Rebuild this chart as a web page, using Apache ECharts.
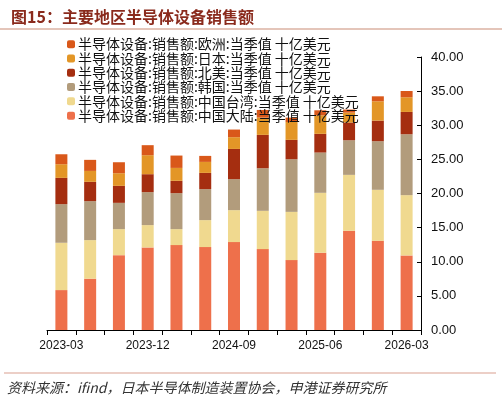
<!DOCTYPE html>
<html><head><meta charset="utf-8">
<script src="https://cdn.jsdelivr.net/npm/echarts@6/dist/echarts.min.js"></script>
<style>html,body{margin:0;padding:0;background:#fff}#c{width:502px;height:402px}</style>
</head><body><div id="c"></div>
<script>
const categories = ['2023-03','2023-06','2023-09','2023-12','2024-03','2024-06','2024-09','2024-12','2025-03','2025-06','2025-09','2025-12','2026-03'];
const yTicks = [0,5,10,15,20,25,30,35,40];
// cumulative tops
const cumCN = [5.85,7.52,10.97,12.10,12.44,12.15,12.88,11.85,10.24,11.32,14.54,13.07,10.93];
const cumTW = [12.78,13.17,14.78,15.37,14.78,16.10,17.56,17.46,17.31,20.10,22.73,20.54,19.76];
const cumKR = [18.44,18.88,18.63,20.20,20.05,20.64,22.10,23.70,25.02,26.00,27.80,27.66,28.68];
const cumNA = [22.29,21.71,21.12,22.83,21.86,23.02,26.53,28.59,27.86,28.74,30.40,30.68,31.95];
const cumJP = [24.29,23.31,22.97,25.61,23.75,24.63,28.25,31.12,30.48,31.46,31.85,33.51,34.10];
const cumEU = [25.75,24.93,24.58,27.08,25.56,25.51,29.37,32.24,31.12,32.19,32.30,34.24,35.02];
const diff = (a,b)=>a.map((v,i)=>+(v-(b?b[i]:0)).toFixed(2));
const china = diff(cumCN), taiwan = diff(cumTW,cumCN), korea = diff(cumKR,cumTW),
      northAmerica = diff(cumNA,cumKR), japan = diff(cumJP,cumNA), europe = diff(cumEU,cumJP);
const names = ['半导体设备:销售额:中国大陆:当季值 十亿美元','半导体设备:销售额:中国台湾:当季值 十亿美元','半导体设备:销售额:韩国:当季值 十亿美元','半导体设备:销售额:北美:当季值 十亿美元','半导体设备:销售额:日本:当季值 十亿美元','半导体设备:销售额:欧洲:当季值 十亿美元'];
const colors = ['#EE704B','#F0D98F','#B29C7C','#A52E10','#E39627','#D9581A'];
const datas = [china,taiwan,korea,northAmerica,japan,europe];
const chart = echarts.init(document.getElementById('c'));
chart.setOption({
  animation:false,
  title:{text:'图15：主要地区半导体设备销售额',left:6,top:4,textStyle:{fontSize:16,fontWeight:'bold',color:'#8A2A1C',fontFamily:'Noto Sans CJK SC'}},
  graphic:[
    {type:'line',shape:{x1:0,y1:29,x2:502,y2:29},style:{stroke:'#C98B74',lineWidth:1}},
    {type:'line',shape:{x1:4,y1:373,x2:496,y2:373},style:{stroke:'#D9A090',lineWidth:1.2}},
    {type:'text',left:7,top:381,style:{text:'资料来源：ifind，日本半导体制造装置协会，申港证券研究所',fontSize:14,fontStyle:'italic',fill:'#333',fontFamily:'Noto Sans CJK SC'}}
  ],
  legend:{orient:'vertical',left:62,top:37,itemWidth:8,itemHeight:8,itemGap:0,padding:[0,5],
    data:names.slice().reverse(),
    textStyle:{fontSize:14,lineHeight:14.3,color:'#111',fontFamily:'Noto Sans CJK SC',padding:[0,0,0,-2]}},
  grid:{left:47,right:81,top:57,bottom:72},
  xAxis:{type:'category',data:categories,
    axisLine:{lineStyle:{color:'#000'}},
    axisTick:{show:true,alignWithLabel:false,interval:0,lineStyle:{color:'#000'}},
    axisLabel:{interval:2,color:'#111',fontSize:12,margin:10,fontFamily:'Liberation Sans'}},
  yAxis:{type:'value',position:'right',min:0,max:40,interval:5,
    axisLine:{show:true,lineStyle:{color:'#000'}},
    axisTick:{show:true,inside:true,length:4,lineStyle:{color:'#000'}},
    splitLine:{show:false},
    axisLabel:{color:'#111',fontSize:13,margin:10,fontFamily:'Liberation Sans',formatter:v=>yTicks.includes(v)?v.toFixed(2):''}},
  series:datas.map((d,i)=>({name:names[i],type:'bar',stack:'a',data:d,barWidth:12,
    itemStyle:{color:colors[i]}}))
});
</script></body></html>
